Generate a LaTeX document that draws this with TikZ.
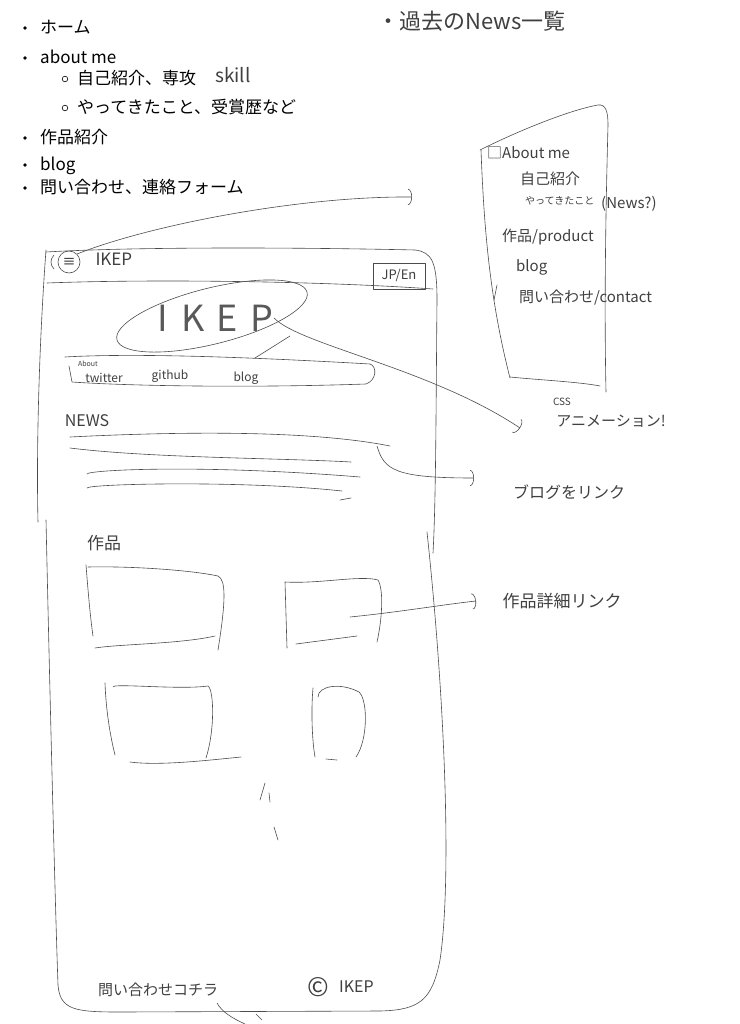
\documentclass[tikz,border=0pt]{standalone}
\usepackage{fontspec}
\setmainfont{Noto Sans CJK JP}
\usepackage{tikz}
\usetikzlibrary{arrows.meta, positioning}

\begin{document}
\begin{tikzpicture}[x=1pt, y=-1pt,
        pen/.style={draw=black!70, line width=0.6pt, line cap=round, line join=round},
        item/.style={font=\fontsize{17}{20}\selectfont, anchor=base west, inner sep=0pt, text height=12pt, text depth=0pt},
        note/.style={font=\fontsize{#1}{#1}\selectfont, text=black!75, inner sep=1pt},
        note/.default=14,
        tip/.style={pen, -{Arc Barb[width=16pt, length=4pt]}}]
    \path[fill=white, use as bounding box] (0,0) rectangle (739,1024);

    % site map
    \node[item] (home)    at (40,34)  {ホーム};
    \node[item] (about)   at (40,64)  {about me};
    \node[item] (intro)   at (77,85)  {自己紹介、専攻};
    \node[item] (career)  at (77,114) {やってきたこと、受賞歴など};
    \node[item] (works)   at (40,144) {作品紹介};
    \node[item] (blog)    at (40,171) {blog};
    \node[item] (contact) at (40,194) {問い合わせ、連絡フォーム};
    \foreach \n in {home, about, works, blog, contact}
        \fill ([xshift=-15pt]\n.west) circle (1.8pt);
    \foreach \n in {intro, career}
        \draw[line width=0.6pt] ([xshift=-12pt]\n.west) circle (2.8pt);
    \node[note=19] (skill) at (233,75) {skill};
    \node[note=22, anchor=west] (pastnews) at (376,21) {・過去のNews一覧};

    % menu panel
    \draw[pen] (480,150) .. controls (520,130) and (570,110) .. (598,105)
        .. controls (606,104) and (608,112) .. (608,125)
        .. controls (606,200) and (604,300) .. (606,392);
    \draw[pen] (481,150) .. controls (484,230) and (490,300) .. (510,378);
    \draw[pen] (510,377) .. controls (540,380) and (580,382) .. (600,386);
    \draw[pen] (497,285) -- (494,300);
    \node[note=15, anchor=west] (pabout)   at (486,153) {□About me};
    \node[note=15, anchor=west] (pintro)   at (519,179) {自己紹介};
    \node[note=10, anchor=west] (pcareer)  at (524,201) {やってきたこと};
    \node[note=15, anchor=west] (pnews)    at (600,204) {(News?)};
    \node[note=15, anchor=west] (pworks)   at (501,237) {作品/product};
    \node[note=15, anchor=west] (pblog)    at (515,267) {blog};
    \node[note=15, anchor=west] (pcontact) at (518,298) {問い合わせ/contact};

    % phone frame
    \draw[pen] (46,250) .. controls (40,330) and (36,440) .. (38,522);
    \draw[pen] (46,520) .. controls (50,700) and (55,900) .. (58,985)
        .. controls (60,1010) and (75,1012) .. (120,1012) -- (380,1011)
        .. controls (420,1010) and (432,1000) .. (440,960)
        .. controls (452,880) and (445,700) .. (427,532);
    \draw[pen] (46,252) .. controls (150,246) and (330,248) .. (415,250)
        .. controls (432,252) and (437,262) .. (437,300)
        .. controls (436,400) and (436,500) .. (433,553);
    \draw[pen] (47,283) .. controls (150,279) and (320,281) .. (433,289);

    % header
    \draw[pen] (54,255) .. controls (50,259) and (50,265) .. (54,269);
    \node[pen, circle, minimum size=22pt, inner sep=0pt, font=\fontsize{13}{13}\selectfont] (menu) at (69,262) {≡};
    \node[note=17, right=14pt of menu, yshift=3pt] (brand) {IKEP};
    \node[pen, note=13, minimum width=52pt, minimum height=26pt] (lang) at (399,276) {JP/En};

    % logo
    \draw[pen, rotate around={14:(212,316)}] (212,316) ellipse [x radius=98, y radius=28];
    \node[note=36, text=black!65] (logo) at (215,318) {I\hspace{14pt}K\hspace{12pt}E\hspace{12pt}P};

    % links
    \draw[pen] (65,357) .. controls (150,352) and (300,360) .. (370,364)
        .. controls (377,366) and (377,380) .. (366,384)
        .. controls (250,388) and (130,386) .. (72,382) -- (69,366);
    \draw[pen] (255,358) -- (290,336);
    \node[note=7]  (navabout) at (88,364)  {About};
    \node[note=12] (twitter)  at (104,378) {twitter};
    \node[note=12] (github)   at (170,376) {github};
    \node[note=12] (navblog)  at (246,378) {blog};

    % news
    \node[note=16] (news) at (87,421) {NEWS};
    \draw[pen] (70,437) .. controls (150,433) and (300,428) .. (390,446);
    \draw[pen] (70,448) .. controls (150,458) and (280,458) .. (351,462);
    \draw[pen] (87,474) .. controls (88,470) and (200,464) .. (360,477);
    \draw[pen] (87,488) .. controls (88,484) and (240,480) .. (342,491);
    \draw[pen] (340,500) -- (351,498);

    % works
    \node[note=17] (worklabel) at (104,543) {作品};
    \draw[pen] (86,565) .. controls (88,590) and (90,615) .. (93,636);
    \draw[pen] (88,567) .. controls (130,566) and (190,570) .. (218,576)
        .. controls (226,580) and (226,600) .. (218,650);
    \draw[pen] (95,648) .. controls (120,644) and (180,644) .. (215,636);
    \draw[pen] (287,648) -- (285,582) .. controls (320,584) and (360,575) .. (378,580)
        .. controls (384,590) and (382,620) .. (377,642);
    \draw[pen] (296,644) -- (357,636);
    \draw[pen] (105,683) .. controls (106,710) and (110,735) .. (115,755);
    \draw[pen] (113,687) .. controls (112,683) and (180,690) .. (208,686)
        .. controls (214,690) and (215,730) .. (206,758);
    \draw[pen] (130,762) .. controls (160,766) and (210,760) .. (241,757);
    \draw[pen] (313,688) .. controls (311,710) and (312,740) .. (315,757);
    \draw[pen] (318,697) .. controls (318,686) and (340,682) .. (359,692)
        .. controls (368,700) and (368,740) .. (356,757);
    \draw[pen] (326,759) -- (337,760);
    \draw[pen] (265,783) -- (260,800);
    \draw[pen] (269,793) -- (270,802);
    \draw[pen] (274,827) -- (278,840);

    % footer
    \node[note=15] (inquiry) at (158,990) {問い合わせコチラ};
    \node[note=26] (copymark) at (318,987) {©};
    \node[note=16, right=8pt of copymark] (copy) {IKEP};
    \draw[pen] (217,1003) .. controls (222,1012) and (232,1018) .. (245,1024);
    \draw[pen] (256,1014) -- (262,1020);

    % notes and arrows
    \node[note=10] (css)      at (562,402) {CSS};
    \node[note=15] (anim)     at (611,421) {アニメーション!};
    \node[note=16] (bloglink) at (569,492) {ブログをリンク};
    \node[note=17] (worklink) at (562,601) {作品詳細リンク};
    \coordinate (tonav)   at (412,197);
    \coordinate (toanim)  at (520,428);
    \coordinate (newsend) at (377,446);
    \coordinate (toblog)  at (474,478);
    \coordinate (card)    at (350,617);
    \coordinate (towork)  at (476,601);
    \draw[tip] (menu.north east) .. controls (150,225) and (300,196) .. (tonav);
    \draw[tip] (logo.east) .. controls (300,345) and (430,368) .. (toanim);
    \draw[tip] (newsend) .. controls (384,470) and (395,478) .. (toblog);
    \draw[tip] (card) .. controls (400,612) and (440,605) .. (towork);
\end{tikzpicture}
\end{document}
